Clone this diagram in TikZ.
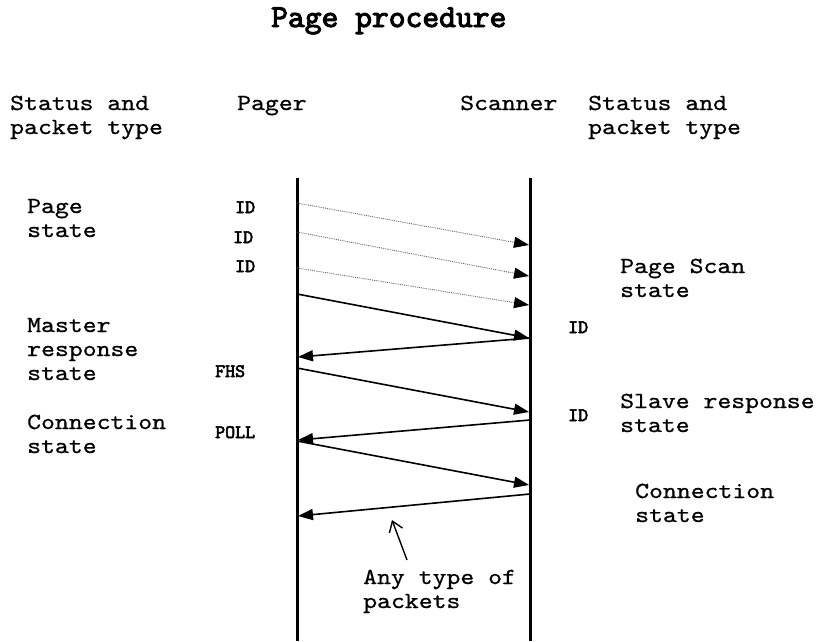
\documentclass[tikz,border=0pt]{standalone}
\usepackage{fontspec}
\usetikzlibrary{arrows.meta}
\newfontfamily\labfont{lmmono10-regular.otf}[FakeStretch=1.15, FakeBold=0.8]
\newfontfamily\heavyfont{lmmono10-regular.otf}[FakeBold=3]
\begin{document}
\begin{tikzpicture}[x=1pt,y=-1pt,
  % multi-line labels are placed by the baseline of their last line
  lab/.style={font=\labfont\fontsize{23}{24}\selectfont, anchor=base west, inner sep=0pt, align=left},
  ttl/.style={font=\heavyfont\fontsize{32}{32}\selectfont, anchor=base west, inner sep=0pt},
  pkt/.style={font=\heavyfont\fontsize{19}{19}\selectfont, anchor=base west, inner sep=0pt},
  lifeline/.style={line width=3pt},
  msg/.style={line width=1.6pt, -{Triangle[length=15pt,width=11pt]}},
  probe/.style={line width=0.9pt, densely dotted, draw=black!60, -{Triangle[length=15pt,width=11pt,color=black]}},
  pointer/.style={line width=1.4pt, -{Straight Barb[length=10pt,width=14pt]}},
]
\useasboundingbox (0,0) rectangle (817,641);

% title and column heads
\node[ttl] (title) at (271,27) {Page procedure};
\node[lab] (lhead) at (10,134) {Status and\\packet type};
\node[lab] (pager) at (237,110) {Pager};
\node[lab] (scanner) at (460,110) {Scanner};
\node[lab] (rhead) at (588,134) {Status and\\packet type};

% lifelines
\coordinate (ptop) at (297,178);
\coordinate (pbot) at (297,641);
\coordinate (stop) at (530,178);
\coordinate (sbot) at (530,641);
\draw[lifeline] (ptop) -- (pbot);
\draw[lifeline] (stop) -- (sbot);

% message end points on the lifelines
\coordinate (p1) at (297,203);  \coordinate (s1) at (529,245);
\coordinate (p2) at (297,232);  \coordinate (s2) at (529,276);
\coordinate (p3) at (297,268);  \coordinate (s3) at (529,305);
\coordinate (p4) at (297,294);  \coordinate (s4) at (529,338);
\coordinate (p5) at (298,357);  \coordinate (s5) at (530,338);
\coordinate (p6) at (297,368);  \coordinate (s6) at (529,412);
\coordinate (p7) at (298,440);  \coordinate (s7) at (530,420);
\coordinate (p8) at (297,441);  \coordinate (s8) at (529,485);
\coordinate (p9) at (298,516);  \coordinate (s9) at (530,494);

% page train
\draw[probe] (p1) -- (s1);
\draw[probe] (p2) -- (s2);
\draw[probe] (p3) -- (s3);
\draw[msg] (p4) -- (s4);
\draw[msg] (s5) -- (p5);
\draw[msg] (p6) -- (s6);
\draw[msg] (s7) -- (p7);
\draw[msg] (p8) -- (s8);
\draw[msg] (s9) -- (p9);

% packet labels
\node[pkt] (id1) at (235,213) {ID};
\node[pkt] (id2) at (233,243) {ID};
\node[pkt] (id3) at (235,272) {ID};
\node[pkt] (fhs) at (215,377) {FHS};
\node[pkt] (poll) at (215,438) {POLL};
\node[pkt] (id4) at (568,333) {ID};
\node[pkt] (id5) at (568,421) {ID};

% states, pager side
\node[lab] (pst) at (27,237) {Page\\state};
\node[lab] (mst) at (27,380) {Master\\response\\state};
\node[lab] (cst) at (27,453) {Connection\\state};

% states, scanner side
\node[lab] (psst) at (620,297) {Page Scan\\state};
\node[lab] (sst) at (620,432) {Slave response\\state};
\node[lab] (cst2) at (635,522) {Connection\\state};

% note
\node[lab] (note) at (363,608) {Any type of\\packets};
\coordinate (ntail) at (407,560);
\coordinate (ntip) at (392,520);
\draw[pointer] (ntail) -- (ntip);
\end{tikzpicture}
\end{document}
